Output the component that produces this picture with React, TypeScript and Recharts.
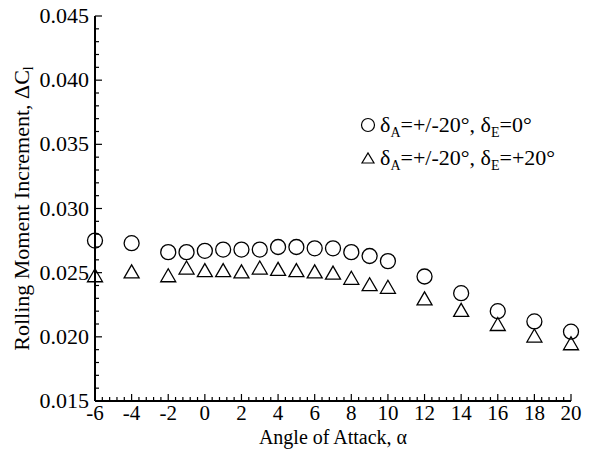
import React from 'react';
import { ScatterChart, Scatter, XAxis, YAxis, Legend } from 'recharts';

// Angle of attack (deg)
const alpha = [-6, -4, -2, -1, 0, 1, 2, 3, 4, 5, 6, 7, 8, 9, 10, 12, 14, 16, 18, 20];
// Rolling moment increment, delta_A = +/-20, delta_E = 0
const dClElev0 = [
  0.0275, 0.0273, 0.0266, 0.0266, 0.0267, 0.0268, 0.0268, 0.0268, 0.027, 0.027,
  0.0269, 0.0269, 0.0266, 0.0263, 0.0259, 0.0247, 0.0234, 0.022, 0.0212, 0.0204,
];
// Rolling moment increment, delta_A = +/-20, delta_E = +20
const dClElev20 = [
  0.0248, 0.0251, 0.0248, 0.0254, 0.0252, 0.0252, 0.0251, 0.0254, 0.0253, 0.0252,
  0.0251, 0.025, 0.0246, 0.0241, 0.0239, 0.023, 0.0221, 0.021, 0.0201, 0.0195,
];

const xMajorTicks = [-6, -4, -2, 0, 2, 4, 6, 8, 10, 12, 14, 16, 18, 20];
const xTickLabels = ['-6', '-4', '-2', '0', '2', '4', '6', '8', '10', '12', '14', '16', '18', '20'];
const yMajorTicks = [0.015, 0.02, 0.025, 0.03, 0.035, 0.04, 0.045];
const yTickLabels = ['0.015', '0.020', '0.025', '0.030', '0.035', '0.040', '0.045'];
const xMinorStep = 0.4;
const yMinorStep = 0.001;

const xTitle = 'Angle of Attack, α';
const yTitle = 'Rolling Moment Increment, ΔC';
const yTitleSub = 'l';

const seriesNames = ['δA=+/-20°, δE=0°', 'δA=+/-20°, δE=+20°'];
const legendParts = [
  ['δ', 'A', '=+/-20°, δ', 'E', '=0°'],
  ['δ', 'A', '=+/-20°, δ', 'E', '=+20°'],
];

const FONT = '"Liberation Serif", "Times New Roman", serif';

const xDomain: [number, number] = [xMajorTicks[0], xMajorTicks[xMajorTicks.length - 1]];
const yDomain: [number, number] = [yMajorTicks[0], yMajorTicks[yMajorTicks.length - 1]];

const xAllTicks = Array.from(
  { length: Math.round((xDomain[1] - xDomain[0]) / xMinorStep) + 1 },
  (_, i) => Math.round((xDomain[0] + i * xMinorStep) * 10) / 10
);
const yAllTicks = Array.from(
  { length: Math.round((yDomain[1] - yDomain[0]) / yMinorStep) + 1 },
  (_, i) => Math.round((yDomain[0] + i * yMinorStep) * 1000) / 1000
);

const dataElev0 = alpha.map((a, i) => ({ alpha: a, dcl: dClElev0[i] }));
const dataElev20 = alpha.map((a, i) => ({ alpha: a, dcl: dClElev20[i] }));

const findIdx = (arr: number[], v: number) => arr.findIndex((m) => Math.abs(m - v) < 1e-7);

const XTick = (props: any) => {
  const { x, y, payload } = props;
  const idx = findIdx(xMajorTicks, payload.value);
  const major = idx >= 0;
  return (
    <g>
      <line x1={x} x2={x} y1={y} y2={y - (major ? 7 : 4)} stroke="#000" strokeWidth={1.2} />
      {major && (
        <text x={x} y={y + 19} textAnchor="middle" fontSize={21} fontFamily={FONT} fill="#000">
          {xTickLabels[idx]}
        </text>
      )}
    </g>
  );
};

const YTick = (props: any) => {
  const { x, y, payload } = props;
  const idx = findIdx(yMajorTicks, payload.value);
  const major = idx >= 0;
  return (
    <g>
      <line x1={x} x2={x + (major ? 7 : 4)} y1={y} y2={y} stroke="#000" strokeWidth={1.2} />
      {major && (
        <text x={x - 6} y={y + 7} textAnchor="end" fontSize={22} fontFamily={FONT} fill="#000">
          {yTickLabels[idx]}
        </text>
      )}
    </g>
  );
};

const XTitle = (props: any) => {
  const vb = props.viewBox || { x: 95, y: 401, width: 476, height: 49 };
  const cx = vb.x + vb.width / 2;
  return (
    <text x={cx} y={vb.y + 43} textAnchor="middle" fontSize={20} fontFamily={FONT} fill="#000">
      {xTitle}
    </text>
  );
};

const YTitle = (props: any) => {
  const vb = props.viewBox || { x: 0, y: 16, width: 95, height: 385 };
  const cx = 21;
  const cy = vb.y + vb.height / 2;
  return (
    <text
      x={cx}
      y={cy}
      transform={`rotate(-90, ${cx}, ${cy})`}
      textAnchor="middle"
      dominantBaseline="central"
      fontSize={22}
      fontFamily={FONT}
      fill="#000"
    >
      {yTitle}
      <tspan baselineShift="sub" fontSize={14}>
        {yTitleSub}
      </tspan>
    </text>
  );
};

const CircleShape = (p: any) => (
  <circle cx={p.cx} cy={p.cy} r={7.5} fill="none" stroke="#000" strokeWidth={1.3} />
);
const TriangleShape = (p: any) => {
  const w = 7.5;
  const h = 6.5;
  const pts = `${p.cx - w},${p.cy + h} ${p.cx + w},${p.cy + h} ${p.cx},${p.cy - h}`;
  return <polygon points={pts} fill="none" stroke="#000" strokeWidth={1.3} />;
};

const LegendMarker = ({ kind }: { kind: number }) => (
  <svg width={16} height={16} style={{ display: 'block' }}>
    {kind === 0 ? (
      <circle cx={8} cy={8} r={6.5} fill="none" stroke="#000" strokeWidth={1.2} />
    ) : (
      <polygon points="2,13 14,13 8,3" fill="none" stroke="#000" strokeWidth={1.2} />
    )}
  </svg>
);

const LegendBox = () => (
  <div style={{ fontFamily: FONT, fontSize: 22, color: '#000' }}>
    {legendParts.map((parts, i) => (
      <div
        key={seriesNames[i]}
        style={{ display: 'flex', alignItems: 'center', height: 33, lineHeight: '33px', whiteSpace: 'nowrap' }}
      >
        <LegendMarker kind={i} />
        <span style={{ marginLeft: 4 }}>
          {parts[0]}
          <sub style={{ fontSize: 14, verticalAlign: '-5px', lineHeight: 0 }}>{parts[1]}</sub>
          {parts[2]}
          <sub style={{ fontSize: 14, verticalAlign: '-5px', lineHeight: 0 }}>{parts[3]}</sub>
          {parts[4]}
        </span>
      </div>
    ))}
  </div>
);

export default function App() {
  return (
    <div style={{ position: 'absolute', left: 0, top: 0, width: 589, height: 450, background: '#fff' }}>
      <ScatterChart width={589} height={450} margin={{ top: 16, right: 18, bottom: 0, left: 0 }}>
        <XAxis
          type="number"
          dataKey="alpha"
          domain={xDomain}
          ticks={xAllTicks}
          interval={0}
          tick={<XTick />}
          tickLine={false}
          tickSize={0}
          tickMargin={0}
          axisLine={{ stroke: '#000', strokeWidth: 2 }}
          height={49}
          label={<XTitle />}
        />
        <YAxis
          type="number"
          dataKey="dcl"
          domain={yDomain}
          ticks={yAllTicks}
          interval={0}
          tick={<YTick />}
          tickLine={false}
          tickSize={0}
          tickMargin={0}
          axisLine={{ stroke: '#000', strokeWidth: 2 }}
          width={95}
          label={<YTitle />}
        />
        <Legend
          layout="vertical"
          align="center"
          verticalAlign="middle"
          wrapperStyle={{ left: 360, top: 108, width: 229 }}
          content={() => <LegendBox />}
        />
        <Scatter name={seriesNames[0]} data={dataElev0} shape={CircleShape} isAnimationActive={false} />
        <Scatter name={seriesNames[1]} data={dataElev20} shape={TriangleShape} isAnimationActive={false} />
      </ScatterChart>
    </div>
  );
}
